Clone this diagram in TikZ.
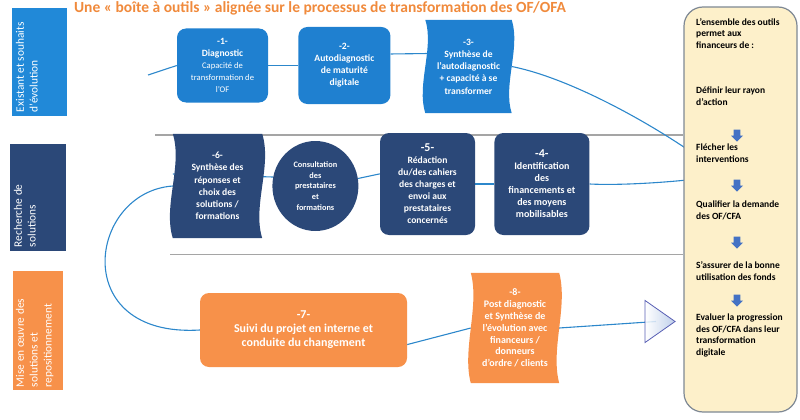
\documentclass[tikz,border=0pt]{standalone}
\usepackage{fontspec}
\setmainfont{Carlito}
\usetikzlibrary{positioning, shapes.geometric, shapes.arrows, backgrounds}
\definecolor{bleuOF}{HTML}{1F80D0}
\definecolor{bleuEtiq}{HTML}{2189D8}
\definecolor{marine}{HTML}{2B4878}
\definecolor{orangeOF}{HTML}{F7914A}
\definecolor{titreOF}{HTML}{F08A3C}
\definecolor{creme}{HTML}{FDF0CA}
\definecolor{bordure}{HTML}{7E8894}
\definecolor{lienbleu}{HTML}{2C87CB}
\definecolor{flechebleu}{HTML}{4472C4}
\definecolor{separateur}{HTML}{A5A5A5}
\definecolor{pointe}{HTML}{B4C7E7}
\newcommand{\maigre}{\mdseries\fontsize{8.6}{11}\selectfont}
\newcommand{\numero}{\fontsize{12}{12}\selectfont}
\tikzset{
  etape/.style={
    rectangle, rounded corners=9pt, text=white, align=center, inner sep=2pt,
    font=\bfseries\fontsize{9.6}{12}\selectfont
  },
  vague/.style={
    rectangle, text=white, align=center, inner sep=2pt,
    font=\bfseries\fontsize{9.6}{12.2}\selectfont
  },
  etiquette/.style={
    rectangle, inner sep=0pt
  },
  texte etiquette/.style={
    rotate=90, text=white, align=left, inner sep=4pt,
    font=\fontsize{11.4}{13.8}\selectfont
  },
  texte jaune/.style={
    anchor=west, align=left, inner sep=0pt,
    font=\bfseries\fontsize{9.5}{11.6}\selectfont
  },
  flechebas/.style={
    single arrow, fill=flechebleu, minimum width=11.5pt, minimum height=12pt,
    single arrow head extend=2.6pt, inner sep=3.2pt, shape border rotate=270
  },
  lien/.style={
    draw=lienbleu, line width=1.1pt
  }
}

\begin{document}
\begin{tikzpicture}[x=1pt, y=-1pt,
  separation/.style={draw=separateur, line width=1.4pt},
  fin/.style={isosceles triangle, isosceles triangle stretches, shape border rotate=0,
    minimum width=42pt, minimum height=30pt, inner sep=0pt, draw=bordure!70!blue, line width=0.8pt,
    left color=white, right color=pointe, fill opacity=0.85}
]
\useasboundingbox (0,0) rectangle (800,420);

\node[text=titreOF, font=\bfseries\fontsize{15.5}{17}\selectfont] (titre) at (320,8)
  {Une « boîte à outils » alignée sur le processus de transformation des OF/OFA};

\node[etiquette, fill=bleuEtiq, minimum width=55pt, minimum height=108pt] (existant) at (39.5,62) {};
\node[texte etiquette, anchor=north west] at (existant.south west) {Existant et souhaits\\d’évolution};
\node[etiquette, fill=marine, minimum width=56pt, minimum height=107pt] (recherche) at (38,197.5) {};
\node[texte etiquette, anchor=north west] at (recherche.south west) {Recherche de\\solutions};
\node[etiquette, fill=orangeOF, minimum width=50pt, minimum height=119pt] (miseoeuvre) at (38,330.5) {};
\node[texte etiquette, anchor=north west, inner sep=3pt] at (miseoeuvre.south west) {Mise en œuvre des\\solutions et\\repositionnement};

\coordinate (depart) at (148,75);
\node[etape, fill=bleuOF, minimum width=91pt, minimum height=74pt] (diag) at (222.5,65.5)
  {-1-\\Diagnostic\\\maigre Capacité de\\\maigre transformation de\\\maigre l’OF};
\node[etape, fill=bleuOF, minimum width=92pt, minimum height=77pt, right=30pt of diag] (auto)
  {-2-\\Autodiagnostic\\de maturité\\digitale};
\node[vague, minimum width=86pt, minimum height=93pt] (synth) at (468.5,66.5)
  {-3-\\Synthèse de\\l’autodiagnostic\\+ capacité à se\\transformer};

\node[vague, minimum width=89pt, minimum height=104pt] (choix) at (217.5,186)
  {-6-\\Synthèse des\\réponses et\\choix des\\solutions /\\formations};
\node[ellipse, fill=marine, text=white, align=center, inner sep=0pt, minimum width=86pt, minimum height=90pt,
  font=\bfseries\fontsize{8.3}{10.8}\selectfont, right=10pt of choix] (consult)
  {Consultation\\des\\prestataires\\et\\formations};
\node[etape, fill=marine, minimum width=95pt, minimum height=102pt] (redac) at (427.5,184)
  {\numero -5-\\Rédaction\\du/des cahiers\\des charges et\\envoi aux\\prestataires\\concernés};
\node[etape, fill=marine, minimum width=95pt, minimum height=102pt, right=19pt of redac,
  font=\bfseries\fontsize{10}{12}\selectfont] (financ)
  {\numero -4-\\Identification\\des\\financements et\\des moyens\\mobilisables};

\node[etape, fill=orangeOF, minimum width=207pt, minimum height=74pt,
  font=\bfseries\fontsize{12}{14}\selectfont] (suivi) at (303.5,330)
  {-7-\\Suivi du projet en interne et\\conduite du changement};
\node[vague, minimum width=88pt, minimum height=110pt, font=\bfseries\fontsize{10}{11.8}\selectfont] (poste) at (515,328)
  {-8-\\Post diagnostic\\et Synthèse de\\l’évolution avec\\financeurs /\\donneurs\\d’ordre / clients};
\node[fin] (arrivee) at (656,321.5) {};

\node[rectangle, rounded corners=19pt, fill=creme, draw=bordure, line width=1.2pt,
  minimum width=113pt, minimum height=405pt] (jaune) at (740.5,209.5) {};
\node[texte jaune] (ensemble) at (696,33.5) {L’ensemble des outils\\permet aux\\financeurs de :};
\node[texte jaune] (definir) at (696,96) {Définir leur rayon\\d’action};
\node[flechebas] (f1) at (737,134) {};
\node[texte jaune] (flecher) at (696,153) {Flécher les\\interventions};
\node[flechebas] (f2) at (737,184) {};
\node[texte jaune] (qualifier) at (696,210.5) {Qualifier la demande\\des OF/CFA};
\node[flechebas] (f3) at (737,241) {};
\node[texte jaune] (assurer) at (696,271) {S’assurer de la bonne\\utilisation des fonds};
\node[flechebas] (f4) at (737,299) {};
\node[texte jaune] (evaluer) at (696,335.5) {Evaluer la progression\\des OF/CFA dans leur\\transformation\\digitale};

\begin{scope}[on background layer]
\draw[separation] (155,135) -- (155,135 -| jaune.west);
\draw[separation] (170,254.5) -- (170,254.5 -| jaune.west);

\draw[lien] (depart) -- (diag.west);
\draw[lien] (diag.east) -- (auto.west);
\draw[lien] (auto.14) -- (synth.18);
\draw[lien] (synth.east) .. controls (580,80) and (680,140) .. (722,175)
  .. controls (700,180) and (630,186) .. (financ.east);
\draw[lien] (financ.west) -- (redac.east);
\draw[lien] (redac.168) -- (consult.10);
\draw[lien] (consult.168) -- (choix.165);
\draw[lien] (choix.west) .. controls (88,192) and (68,338) .. (suivi.west);
\draw[lien] (suivi.-8) -- (poste.west);
\draw[lien] (poste.east) -- (arrivee.center);

\fill[bleuOF] (synth.north west) .. controls +(9,28) and +(-9,-28) .. (synth.south west)
  -- (synth.south east) .. controls +(-9,-28) and +(9,28) .. (synth.north east) -- cycle;
\fill[marine] (choix.north west) .. controls +(10,32) and +(-10,-32) .. (choix.south west)
  -- (choix.south east) .. controls +(-10,-32) and +(10,32) .. (choix.north east) -- cycle;
\fill[orangeOF] (poste.north west) .. controls +(9,34) and +(-9,-34) .. (poste.south west)
  -- (poste.south east) .. controls +(-9,-34) and +(9,34) .. (poste.north east) -- cycle;
\end{scope}
\end{tikzpicture}
\end{document}
